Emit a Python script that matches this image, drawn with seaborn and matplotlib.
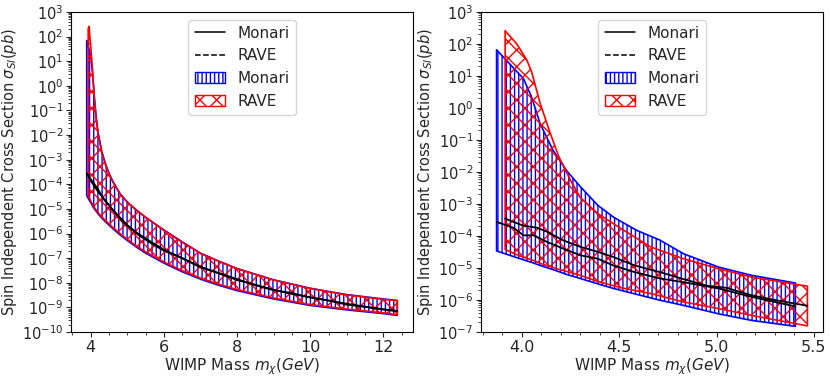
import numpy as np
import matplotlib
matplotlib.use("Agg")
import matplotlib.pyplot as plt
import seaborn as sns
from matplotlib.lines import Line2D
from matplotlib.patches import Patch
from matplotlib.ticker import LogLocator, AutoMinorLocator


# ---- left panel: bands (WIMP mass in GeV, cross section in pb) ----
left_mon_x = [3.89, 3.95, 4.0, 4.05, 4.1, 4.15, 4.2, 4.3, 4.4, 4.5, 4.6, 4.8, 5.0,
              5.25, 5.5, 6.0, 6.5, 7.0, 7.5, 8.0, 9.0, 10.0, 11.0, 12.0, 12.38]
left_mon_hi = [7.0e1, 3.2e1, 1.6e1, 3.2e0, 3.0e-1, 5.0e-2, 1.3e-2, 2.2e-3, 7.0e-4, 2.8e-4,
               1.35e-4, 4.2e-5, 1.9e-5, 9.0e-6, 4.6e-6, 1.4e-6, 4.6e-7, 1.6e-7, 7.6e-8,
               3.8e-8, 1.32e-8, 6.0e-9, 3.3e-9, 2.2e-9, 1.9e-9]
left_mon_lo = [3.5e-5, 2.4e-5, 1.8e-5, 1.3e-5, 1.0e-5, 8.0e-6, 6.3e-6, 4.3e-6, 3.0e-6,
               2.2e-6, 1.6e-6, 8.9e-7, 5.2e-7, 2.8e-7, 1.6e-7, 6.3e-8, 2.8e-8, 1.4e-8,
               7.9e-9, 4.8e-9, 2.2e-9, 1.2e-9, 7.9e-10, 5.6e-10, 4.7e-10]

left_rave_x = [3.93, 3.95, 4.0, 4.05, 4.1, 4.15, 4.2, 4.3, 4.4, 4.5, 4.6, 4.8, 5.0,
               5.25, 5.5, 6.0, 6.5, 7.0, 7.5, 8.0, 9.0, 10.0, 11.0, 12.0, 12.38]
left_rave_hi = [2.0e2, 2.6e2, 4.0e1, 4.0e0, 3.0e-1, 4.5e-2, 1.1e-2, 2.0e-3, 6.5e-4, 2.6e-4,
                1.3e-4, 4.0e-5, 1.85e-5, 8.8e-6, 4.5e-6, 1.35e-6, 4.4e-7, 1.55e-7, 7.4e-8,
                3.7e-8, 1.28e-8, 5.8e-9, 3.2e-9, 2.1e-9, 1.9e-9]
left_rave_lo = [3.3e-5, 3.0e-5, 2.1e-5, 1.5e-5, 1.15e-5, 9.0e-6, 7.1e-6, 4.8e-6, 3.4e-6,
                2.5e-6, 1.8e-6, 1.0e-6, 5.8e-7, 3.1e-7, 1.8e-7, 7.0e-8, 3.1e-8, 1.55e-8,
                8.7e-9, 5.3e-9, 2.4e-9, 1.3e-9, 8.5e-10, 6.0e-10, 5.0e-10]

# ---- left panel: median lines ----
left_mon_line_x = [3.89, 4.0, 4.2, 4.4, 4.6, 4.8, 5.0, 5.25, 5.5, 6.0, 6.5, 7.0, 7.5,
                   8.0, 8.5, 9.0, 9.5, 10.0, 10.5, 11.0, 11.5, 12.0, 12.38]
left_mon_line_y = [2.8e-4, 1.4e-4, 5.0e-5, 2.2e-5, 8.9e-6, 4.5e-6, 2.2e-6, 1.1e-6, 6.3e-7,
                   2.2e-7, 1.0e-7, 4.5e-8, 2.4e-8, 1.3e-8, 8.3e-9, 5.2e-9, 3.5e-9, 2.6e-9,
                   1.9e-9, 1.4e-9, 1.07e-9, 8.3e-10, 7.1e-10]
left_rave_line_x = [3.93, 3.97, 4.05, 4.2, 4.35, 4.5, 4.7, 4.9, 5.1, 5.3, 5.6, 6.0, 6.5,
                    7.0, 7.5, 8.0, 8.5, 9.0, 9.5, 10.0, 10.5, 11.0, 11.5, 12.0, 12.38]
left_rave_line_y = [2.5e-4, 1.8e-4, 1.3e-4, 6.3e-5, 2.5e-5, 1.4e-5, 6.3e-6, 2.8e-6, 1.6e-6,
                    8.9e-7, 4.5e-7, 2.0e-7, 1.0e-7, 4.2e-8, 2.5e-8, 1.4e-8, 7.9e-9, 5.0e-9,
                    3.8e-9, 2.5e-9, 1.9e-9, 1.3e-9, 1.05e-9, 8.3e-10, 7.1e-10]

# ---- right panel: bands ----
right_mon_x = [3.87, 4.008, 4.05, 4.094, 4.16, 4.23, 4.30, 4.39, 4.47, 4.59, 4.71, 4.83,
               5.01, 5.18, 5.405]
right_mon_hi = [6.6e1, 8.3e0, 2.2e0, 3.2e-1, 4.8e-2, 1.1e-2, 3.5e-3, 9.1e-4, 3.9e-4,
                1.5e-4, 7.4e-5, 2.8e-5, 1.07e-5, 5.9e-6, 3.4e-6]
right_mon_lo = [3.4e-5, 1.8e-5, 1.5e-5, 1.2e-5, 8.9e-6, 6.3e-6, 4.7e-6, 3.2e-6, 2.3e-6,
                1.5e-6, 9.8e-7, 6.8e-7, 3.7e-7, 2.3e-7, 1.5e-7]

right_rave_x = [3.914, 3.974, 4.026, 4.05, 4.094, 4.146, 4.19, 4.25, 4.30, 4.39, 4.51,
                4.66, 4.83, 5.01, 5.18, 5.467]
right_rave_hi = [2.6e2, 1.0e2, 3.1e1, 1.35e1, 1.4e0, 1.6e-1, 3.0e-2, 5.5e-3, 1.6e-3,
                 5.0e-4, 1.7e-4, 4.6e-5, 1.95e-5, 9.5e-6, 5.2e-6, 2.7e-6]
right_rave_lo = [3.8e-5, 2.6e-5, 2.0e-5, 1.8e-5, 1.4e-5, 1.1e-5, 9.1e-6, 7.2e-6, 5.9e-6,
                 3.8e-6, 2.4e-6, 1.6e-6, 8.7e-7, 5.4e-7, 3.3e-7, 1.55e-7]

# ---- right panel: median lines ----
right_mon_line_x = [3.871, 3.957, 4.008, 4.06, 4.13, 4.21, 4.30, 4.39, 4.47, 4.58, 4.71,
                    4.83, 5.01, 5.18, 5.405]
right_mon_line_y = [2.75e-4, 1.8e-4, 1.05e-4, 1.05e-4, 6.5e-5, 4.1e-5, 2.5e-5, 1.95e-5,
                    1.2e-5, 7.4e-6, 4.7e-6, 3.6e-6, 2.3e-6, 1.25e-6, 6.3e-7]
right_rave_line_x = [3.914, 3.957, 4.008, 4.08, 4.13, 4.21, 4.30, 4.39, 4.47, 4.58, 4.71,
                     4.83, 4.95, 5.05, 5.18, 5.3, 5.467]
right_rave_line_y = [3.5e-4, 2.75e-4, 2.1e-4, 1.8e-4, 1.35e-4, 7.4e-5, 4.6e-5, 3.2e-5,
                     2.2e-5, 1.2e-5, 7.4e-6, 4.5e-6, 2.8e-6, 2.4e-6, 1.4e-6, 1.0e-6, 6.6e-7]

sns.set_style("ticks", {
    "xtick.major.size": 3.0, "ytick.major.size": 3.0,
    "xtick.minor.size": 1.8, "ytick.minor.size": 1.8,
})
plt.rcParams["font.family"] = ["DejaVu Sans"]
plt.rcParams["hatch.linewidth"] = 1.0

fig = plt.figure(figsize=(8.3, 3.78), dpi=100)
ax1 = fig.add_axes([71 / 830, 46 / 378, 342 / 830, 320 / 378])
ax2 = fig.add_axes([481 / 830, 46 / 378, 342 / 830, 320 / 378])


def draw_panel(ax, mon_x, mon_lo, mon_hi, rave_x, rave_lo, rave_hi,
               mline_x, mline_y, rline_x, rline_y, ylo, yhi):
    plt.rcParams["hatch.color"] = "blue"
    ax.fill_between(mon_x, mon_lo, mon_hi, facecolor="none", edgecolor="blue",
                    hatch="||||", linewidth=1.2)
    plt.rcParams["hatch.color"] = "red"
    ax.fill_between(rave_x, rave_lo, rave_hi, facecolor="none", edgecolor="red",
                    hatch="xx", linewidth=1.2)
    sns.lineplot(x=mline_x, y=mline_y, ax=ax, color="black", linewidth=1.3)
    sns.lineplot(x=rline_x, y=rline_y, ax=ax, color="black", linewidth=1.3)
    ax.set_yscale("log")
    ax.set_ylim(ylo, yhi)
    ax.set_yticks(10.0 ** np.arange(np.log10(ylo), np.log10(yhi) + 1))
    ax.yaxis.set_minor_locator(LogLocator(base=10, subs=np.arange(2, 10), numticks=100))
    ax.xaxis.set_minor_locator(AutoMinorLocator())
    ax.tick_params(labelsize=10.5, width=0.8, pad=2)
    ax.tick_params(axis="x", labelsize=11.5)
    ax.tick_params(which="minor", width=0.6)
    ax.set_xlabel(r"WIMP Mass $m_\chi(GeV)$", fontsize=11, labelpad=1)
    ax.set_ylabel(r"Spin Independent Cross Section $\sigma_{SI}(pb)$", fontsize=10.5,
                  labelpad=2)
    for s in ax.spines.values():
        s.set_visible(True)
        s.set_color("black")
        s.set_linewidth(0.8)
    handles = [
        Line2D([], [], color="black", linestyle="-", linewidth=1.1),
        Line2D([], [], color="black", linestyle="--", linewidth=1.1),
        Patch(facecolor="none", edgecolor="blue", hatch="||||"),
        Patch(facecolor="none", edgecolor="red", hatch="xx"),
    ]
    ax.legend(handles, ["Monari", "RAVE", "Monari", "RAVE"], loc="upper center",
              fontsize=11)


draw_panel(ax1, left_mon_x, left_mon_lo, left_mon_hi, left_rave_x, left_rave_lo,
           left_rave_hi, left_mon_line_x, left_mon_line_y, left_rave_line_x,
           left_rave_line_y, 1e-10, 1e3)
ax1.set_xlim(3.46, 12.81)
ax1.set_xticks([4, 6, 8, 10, 12])

draw_panel(ax2, right_mon_x, right_mon_lo, right_mon_hi, right_rave_x, right_rave_lo,
           right_rave_hi, right_mon_line_x, right_mon_line_y, right_rave_line_x,
           right_rave_line_y, 1e-7, 1e3)
ax2.set_xlim(3.79, 5.547)
ax2.set_xticks([4.0, 4.5, 5.0, 5.5])

plt.savefig("out.png", dpi=100)
plt.close()
